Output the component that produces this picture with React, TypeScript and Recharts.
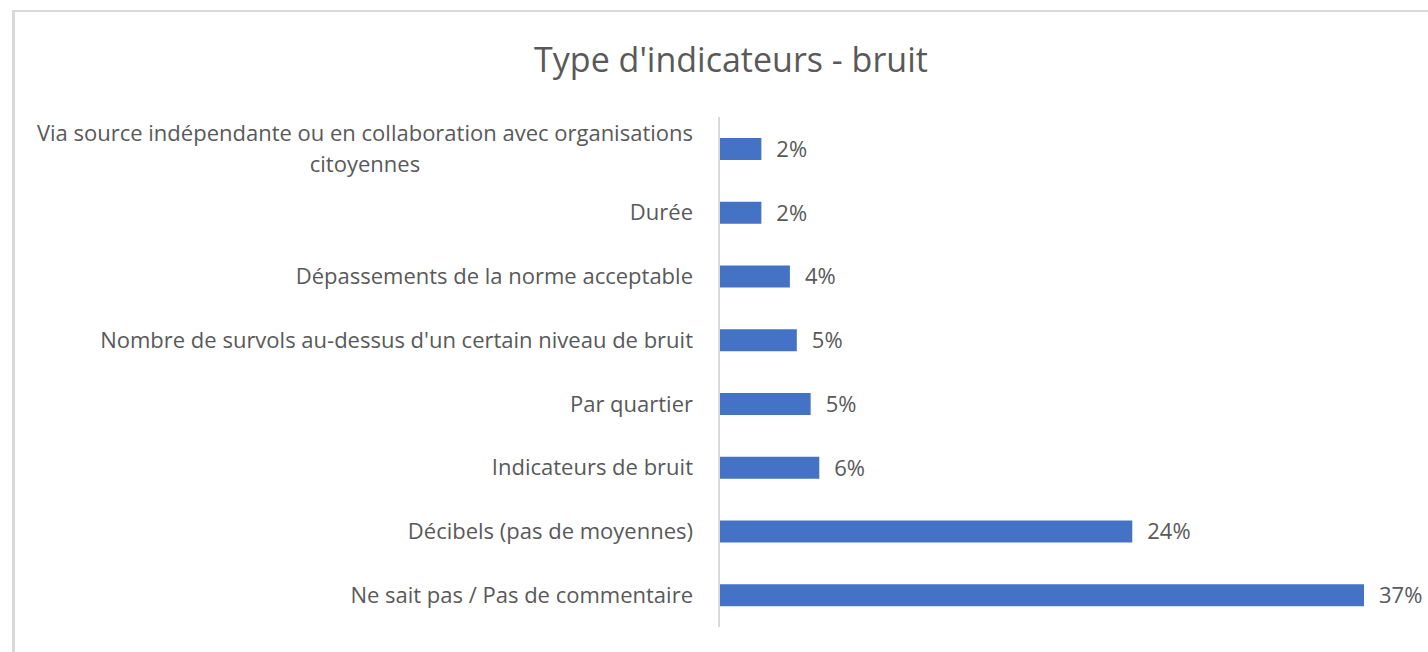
import { useLayoutEffect, useRef, useState } from "react";
import { Bar, BarChart, LabelList, XAxis, YAxis } from "recharts";

const categories = [
  "Via source indépendante ou en collaboration avec organisations\ncitoyennes",
  "Durée",
  "Dépassements de la norme acceptable",
  "Nombre de survols au-dessus d'un certain niveau de bruit",
  "Par quartier ",
  "Indicateurs de bruit",
  "Décibels (pas de moyennes)",
  "Ne sait pas / Pas de commentaire",
];
const shares = [2.45, 2.45, 4.1, 4.5, 5.3, 5.8, 23.9, 37.3];

const data = categories.map((name, i) => ({ name, value: shares[i] }));

const FONT = "'Open Sans', Lato, sans-serif";
const TEXT = "#595959";

// right-aligned block, lines centred on each other (Excel style wrap)
function CategoryTick(props: any) {
  const { x, y, payload } = props;
  const lines = String(payload.value).split("\n");
  const firstRef = useRef<SVGTextElement>(null);
  const [firstWidth, setFirstWidth] = useState(0);
  useLayoutEffect(() => {
    if (firstRef.current) setFirstWidth(firstRef.current.getComputedTextLength());
  }, [payload.value]);
  const lineHeight = 31;
  const top = y - ((lines.length - 1) * lineHeight) / 2;
  return (
    <g>
      {lines.map((line, i) => (
        <text
          key={i}
          ref={i === 0 ? firstRef : undefined}
          x={i === 0 ? x : x - firstWidth / 2}
          y={top + i * lineHeight}
          dy="0.35em"
          textAnchor={i === 0 ? "end" : "middle"}
          fill={TEXT}
          fontSize={22}
          fontFamily={FONT}
        >
          {line}
        </text>
      ))}
    </g>
  );
}

export default function App() {
  return (
    <div style={{ position: "fixed", inset: 0, overflow: "hidden", background: "#fff" }}>
      <div
        style={{
          position: "absolute",
          left: 12,
          top: 10,
          width: 1500,
          height: 700,
          borderTop: "2px solid #d9d9d9",
          borderLeft: "3px solid #d9d9d9",
        }}
      />
      <div
        style={{
          position: "absolute",
          left: 331,
          width: 800,
          top: 39,
          textAlign: "center",
          fontFamily: FONT,
          fontSize: 34,
          color: TEXT,
          lineHeight: "40px",
        }}
      >
        Type d'indicateurs - bruit
      </div>
      <div style={{ position: "absolute", left: 0, top: 0 }}>
        <BarChart
          width={1428}
          height={652}
          data={data}
          layout="vertical"
          margin={{ top: 117, right: 64, bottom: 25, left: 0 }}
        >
          <XAxis type="number" domain={[0, "dataMax"]} hide />
          <YAxis
            type="category"
            dataKey="name"
            width={719}
            axisLine={{ stroke: "#d9d9d9", strokeWidth: 2 }}
            tickLine={false}
            tickSize={6}
            tickMargin={20}
            tick={<CategoryTick />}
            interval={0}
          />
          <Bar dataKey="value" fill="#4472C4" barSize={22} isAnimationActive={false}>
            <LabelList
              dataKey="value"
              position="right"
              offset={15}
              formatter={(v: any) => `${Math.round(Number(v))}%`}
              fill={TEXT}
              fontSize={22}
              fontFamily={FONT}
            />
          </Bar>
        </BarChart>
      </div>
    </div>
  );
}
